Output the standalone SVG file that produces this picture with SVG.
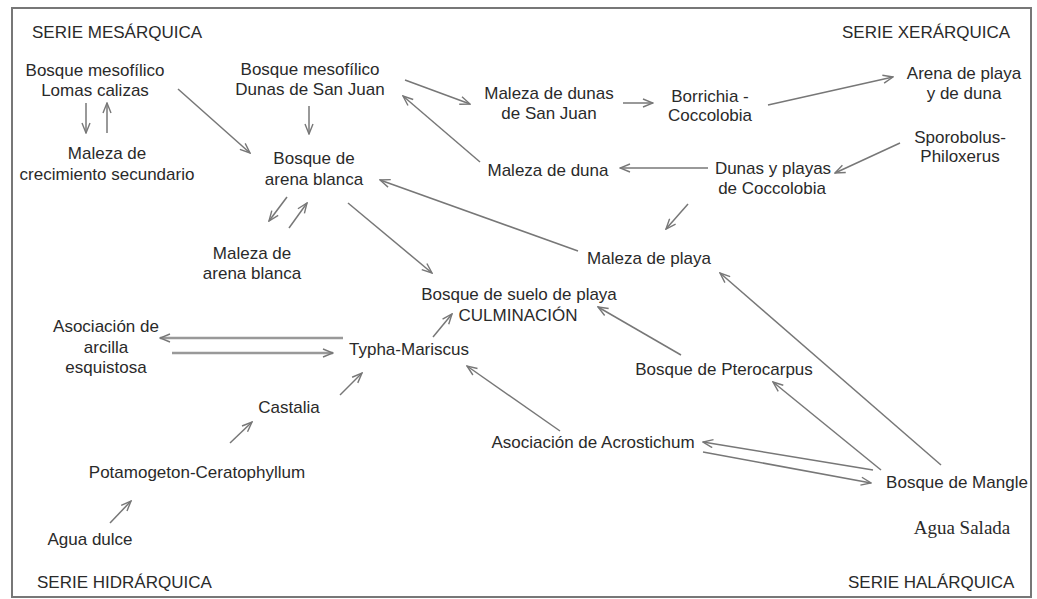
<svg xmlns="http://www.w3.org/2000/svg" width="1037" height="599" viewBox="0 0 1037 599">
<defs>
<style>
text{font-family:"Liberation Sans",Arial,sans-serif;font-size:17px;fill:#2a2a2a;text-anchor:middle}
.hdr{text-anchor:start}
.serif{font-family:"Liberation Serif","Times New Roman",serif;font-size:19px}
.c line{stroke:#777;stroke-width:1.5;fill:none;marker-end:url(#ah)}
.c .thick{stroke:#999;stroke-width:2.5}
</style>
<marker id="ah" viewBox="0 0 12 10" markerWidth="12" markerHeight="10" refX="11" refY="5" orient="auto" markerUnits="userSpaceOnUse">
<path d="M1,1 L11,5 L1,9" fill="none" stroke="#777" stroke-width="1.4"/>
</marker>
</defs>
<rect x="0" y="0" width="1037" height="599" fill="#fff"/>
<rect x="12" y="8" width="1019" height="589" fill="none" stroke="#777" stroke-width="2"/>

<g id="headers">
<text class="hdr" x="32" y="38">SERIE MESÁRQUICA</text>
<text class="hdr" x="842" y="38">SERIE XERÁRQUICA</text>
<text class="hdr" x="37" y="588">SERIE HIDRÁRQUICA</text>
<text class="hdr" x="848" y="588">SERIE HALÁRQUICA</text>
</g>

<g id="n-mesofilico-lomas"><text x="95" y="76">Bosque mesofílico</text><text x="95" y="96">Lomas calizas</text></g>
<g id="n-maleza-secundario"><text x="107" y="159">Maleza de</text><text x="107" y="180">crecimiento secundario</text></g>
<g id="n-mesofilico-dunas"><text x="310" y="75">Bosque mesofílico</text><text x="310" y="95">Dunas de San Juan</text></g>
<g id="n-bosque-arena"><text x="314" y="164">Bosque de</text><text x="314" y="185">arena blanca</text></g>
<g id="n-maleza-arena"><text x="252" y="259">Maleza de</text><text x="252" y="279">arena blanca</text></g>
<g id="n-maleza-dunas-sj"><text x="549" y="99">Maleza de dunas</text><text x="549" y="119">de San Juan</text></g>
<g id="n-borrichia"><text x="710" y="102">Borrichia -</text><text x="710" y="121">Coccolobia</text></g>
<g id="n-arena-playa"><text x="964" y="79">Arena de playa</text><text x="964" y="99">y de duna</text></g>
<g id="n-sporobolus"><text x="960" y="143">Sporobolus-</text><text x="960" y="162">Philoxerus</text></g>
<g id="n-maleza-duna"><text x="548" y="176">Maleza de duna</text></g>
<g id="n-dunas-playas"><text x="773" y="174">Dunas y playas</text><text x="772" y="194">de Coccolobia</text></g>
<g id="n-maleza-playa"><text x="649" y="264">Maleza de playa</text></g>
<g id="n-culminacion"><text x="519" y="300">Bosque de suelo de playa</text><text x="518" y="321">CULMINACIÓN</text></g>
<g id="n-arcilla"><text x="106" y="332">Asociación de</text><text x="106" y="353">arcilla</text><text x="106" y="373">esquistosa</text></g>
<g id="n-typha"><text x="409" y="355">Typha-Mariscus</text></g>
<g id="n-pterocarpus"><text x="724" y="375">Bosque de Pterocarpus</text></g>
<g id="n-castalia"><text x="289" y="413">Castalia</text></g>
<g id="n-acrostichum"><text x="593" y="448">Asociación de Acrostichum</text></g>
<g id="n-potamogeton"><text x="197" y="478">Potamogeton-Ceratophyllum</text></g>
<g id="n-mangle"><text x="957" y="488">Bosque de Mangle</text></g>
<g id="n-agua-salada"><text class="serif" x="962" y="534">Agua Salada</text></g>
<g id="n-agua-dulce"><text x="90" y="545">Agua dulce</text></g>

<g id="connectors" class="c">
<line x1="86" y1="103" x2="86" y2="133"/>
<line x1="107" y1="133" x2="107" y2="103"/>
<line x1="178" y1="89" x2="250" y2="153"/>
<line x1="309" y1="106" x2="309" y2="134"/>
<line x1="287" y1="197" x2="269" y2="221"/>
<line x1="289" y1="228" x2="307" y2="203"/>
<line x1="348" y1="203" x2="432" y2="273"/>
<line x1="405" y1="80" x2="470" y2="104"/>
<line x1="480" y1="162" x2="403" y2="96"/>
<line x1="623" y1="103" x2="653" y2="103"/>
<line x1="708" y1="168" x2="620" y2="168"/>
<line x1="768" y1="105" x2="893" y2="77"/>
<line x1="900" y1="143" x2="835" y2="173"/>
<line x1="688" y1="204" x2="666" y2="229"/>
<line x1="578" y1="251" x2="380" y2="180"/>
<line x1="941" y1="465" x2="720" y2="273"/>
<line x1="881" y1="470" x2="773" y2="382"/>
<line x1="681" y1="355" x2="598" y2="307"/>
<line x1="873" y1="470" x2="703" y2="442"/>
<line x1="703" y1="452" x2="871" y2="483"/>
<line x1="433" y1="337" x2="452" y2="314"/>
<line x1="560" y1="431" x2="467" y2="366"/>
<line class="thick" x1="343" y1="338" x2="160" y2="338"/>
<line class="thick" x1="172" y1="353" x2="333" y2="353"/>
<line x1="340" y1="395" x2="362" y2="373"/>
<line x1="230" y1="443" x2="252" y2="422"/>
<line x1="110" y1="523" x2="131" y2="501"/>
</g>
</svg>
